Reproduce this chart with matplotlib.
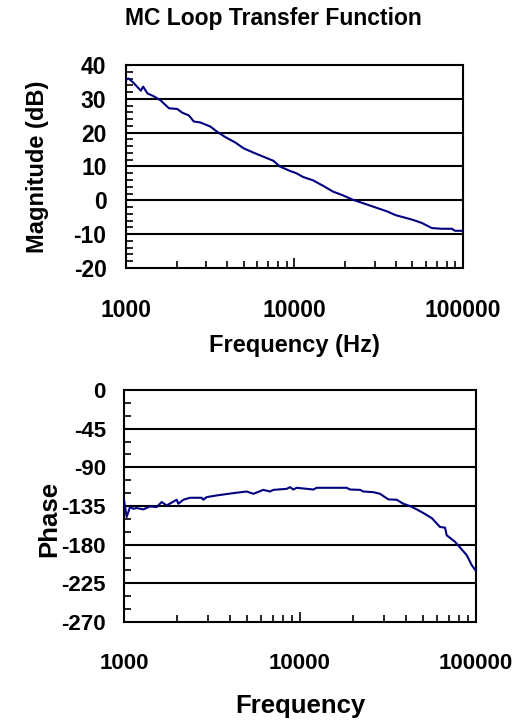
import numpy as np
import matplotlib
matplotlib.use("Agg")
import matplotlib.pyplot as plt
from matplotlib.ticker import LogLocator, NullFormatter, FixedLocator

plt.rcParams["font.family"] = ["Liberation Sans", "DejaVu Sans"]
plt.rcParams["font.weight"] = "bold"
plt.rcParams["axes.unicode_minus"] = False

# magnitude response
mag_freq = [1000, 1035, 1100, 1226, 1265, 1342, 1469, 1608, 1800, 2015, 2158,
            2361, 2527, 2768, 3170, 3468, 3884, 4450, 4980, 5705, 6535, 7490,
            8200, 9390, 10270, 11250, 12900, 14780, 16900, 19330, 22150,
            25370, 29060, 33280, 35600, 39900, 43600, 49900, 57100, 65400,
            74900, 85800, 89700, 100000]
mag_db = [35.6, 36.0, 34.9, 32.4, 33.6, 31.6, 30.7, 29.5, 27.2, 27.0, 25.9,
          25.1, 23.3, 23.0, 21.8, 20.3, 18.7, 17.1, 15.4, 14.1, 12.9, 11.7,
          10.0, 8.7, 8.0, 6.9, 5.9, 4.3, 2.6, 1.5, 0.2,
          -0.8, -1.8, -2.8, -3.3, -4.4, -4.9, -5.7, -6.7, -8.2,
          -8.4, -8.4, -9.0, -9.0]

# phase response
ph_freq = [1000, 1035, 1082, 1130, 1180, 1288, 1405, 1533, 1637, 1748, 1992,
           2036, 2173, 2371, 2763, 2824, 2950, 3362, 4181, 4977, 5430, 6190,
           6753, 7056, 8401, 8775, 9166, 9573, 11906, 12437, 18417, 19235,
           21925, 22895, 26110, 28480, 31760, 35420, 38640, 42170, 46020,
           50220, 55990, 62450, 66660, 68120, 75990, 88520, 94500, 100000]
ph_deg = [-127.7, -147.8, -136.2, -138.2, -137.4, -138.9, -135.5, -136.2,
          -130.4, -134.3, -127.7, -132.4, -127.7, -125.4, -125.4, -127.7,
          -124.6, -122.7, -120.0, -118.1, -120.8, -116.2, -118.1, -116.2,
          -115.0, -113.1, -115.8, -113.8, -115.8, -113.8, -113.8, -115.8,
          -116.2, -118.1, -118.9, -120.8, -127.3, -127.7, -132.4, -135.1,
          -138.9, -143.2, -149.0, -159.4, -160.2, -169.0, -176.7, -192.2,
          -203.8, -210.7]

freq_ticks = [1000, 10000, 100000]
mag_ticks = [-20, -10, 0, 10, 20, 30, 40]
ph_ticks = [-270, -225, -180, -135, -90, -45, 0]

LINE = "#000080"

fig = plt.figure(figsize=(5.27, 7.22), dpi=100)
ax1 = fig.add_axes([0.239, 0.6288, 0.6395, 0.2812])
ax2 = fig.add_axes([0.2353, 0.1385, 0.668, 0.3213])


def style(ax, yticks, yminor, fs_tick):
    ax.set_xscale("log")
    ax.set_xlim(1000, 100000)
    ax.set_ylim(yticks[0], yticks[-1])
    ax.set_yticks(yticks)
    ax.yaxis.set_minor_locator(FixedLocator(yminor))
    ax.set_xticks(freq_ticks)
    ax.set_xticklabels([str(v) for v in freq_ticks])
    ax.xaxis.set_minor_locator(LogLocator(base=10, subs=range(2, 10)))
    ax.xaxis.set_minor_formatter(NullFormatter())
    for g in yticks[1:-1]:
        ax.axhline(g, color="black", lw=1.5, zorder=1)
    for s in ax.spines.values():
        s.set_linewidth(1.5)
    ax.tick_params(which="both", direction="in", top=False, right=False,
                   width=1.2, labelsize=fs_tick)
    ax.tick_params(which="major", length=7)
    ax.tick_params(which="minor", length=5)
    ax.tick_params(axis="x", pad=22)


style(ax1, mag_ticks, np.arange(-20, 41, 2), 16.5)
style(ax2, ph_ticks, np.arange(-270, 1, 15), 16)
ax1.tick_params(axis="y", pad=14)
ax2.tick_params(axis="y", pad=13)

ax1.plot(mag_freq, mag_db, color=LINE, lw=1.5, zorder=3)
ax2.plot(ph_freq, ph_deg, color=LINE, lw=1.5, zorder=3)

ax1.set_xlabel("Frequency (Hz)", fontsize=17, fontweight="bold", labelpad=9)
ax1.set_ylabel("Magnitude (dB)", fontsize=17, fontweight="bold")
ax1.yaxis.set_label_coords(-0.228, 0.5)

ax2.set_xlabel("Frequency", fontsize=18.5, fontweight="bold", labelpad=15)
ax2.set_ylabel("Phase", fontsize=18.5, fontweight="bold")
ax2.yaxis.set_label_coords(-0.178, 0.444)

fig.text(273 / 527, 1 - 18 / 722, "MC Loop Transfer Function", ha="center",
         va="center", fontsize=16.5, fontweight="bold")

fig.savefig("out.png", dpi=100)
